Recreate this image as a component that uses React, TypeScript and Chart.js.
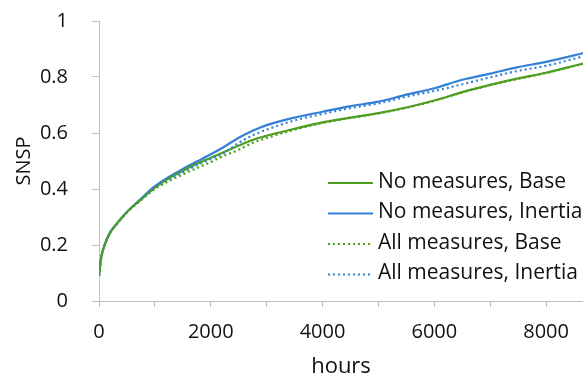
import React, { useEffect, useRef } from "react";
import { Chart, registerables } from "chart.js";

Chart.register(...registerables);

const hours = [0, 25, 50, 100, 200, 300, 500, 750, 1000, 1250, 1500, 1750, 2000, 2250, 2500, 2750, 3000, 3500, 4000, 4500, 5000, 5500, 6000, 6500, 7000, 7500, 8000, 8500, 8760];

const noMeasuresBase = [0.09, 0.135, 0.165, 0.2, 0.245, 0.272, 0.318, 0.362, 0.405, 0.438, 0.465, 0.49, 0.512, 0.533, 0.555, 0.575, 0.59, 0.615, 0.638, 0.655, 0.671, 0.691, 0.716, 0.746, 0.772, 0.795, 0.815, 0.84, 0.853];
const noMeasuresInertia = [0.09, 0.135, 0.165, 0.2, 0.245, 0.272, 0.318, 0.365, 0.41, 0.443, 0.472, 0.498, 0.524, 0.552, 0.583, 0.608, 0.628, 0.655, 0.676, 0.696, 0.712, 0.737, 0.76, 0.79, 0.812, 0.835, 0.854, 0.877, 0.891];
const allMeasuresBase = [0.09, 0.135, 0.165, 0.2, 0.244, 0.27, 0.316, 0.36, 0.4, 0.428, 0.452, 0.474, 0.496, 0.52, 0.54, 0.565, 0.582, 0.612, 0.636, 0.654, 0.67, 0.69, 0.715, 0.745, 0.771, 0.794, 0.814, 0.839, 0.852];
const allMeasuresInertia = [0.09, 0.135, 0.165, 0.2, 0.245, 0.271, 0.317, 0.362, 0.405, 0.435, 0.46, 0.485, 0.507, 0.53, 0.565, 0.592, 0.612, 0.645, 0.668, 0.689, 0.706, 0.73, 0.75, 0.774, 0.799, 0.822, 0.84, 0.865, 0.879];

const seriesLabels = ["No measures, Base", "No measures, Inertia", "All measures, Base", "All measures, Inertia"];
const xTickValues = [0, 1000, 2000, 3000, 4000, 5000, 6000, 7000, 8000];
const xTickLabels = [0, 2000, 4000, 6000, 8000];
const yTickValues = [0, 0.2, 0.4, 0.6, 0.8, 1];

const GREEN = "#4c9e1e";
const BLUE = "#3480d6";
const AXIS = "#bfbfbf";
const TEXT = "#111111";
const FONT = "'Open Sans', Lato, sans-serif";

const toPoints = (vals: number[]) => hours.map((h, i) => ({ x: h, y: vals[i] }));

const legendPlugin = {
  id: "insideLegend",
  afterDraw(chart: any) {
    const { ctx, chartArea } = chart;
    const x0 = chartArea.left + 229;
    const lineLen = 45;
    const y0 = chartArea.top + 161;
    const step = 30.5;
    ctx.save();
    ctx.font = `21px ${FONT}`;
    ctx.textBaseline = "middle";
    ctx.textAlign = "left";
    chart.data.datasets.forEach((ds: any, i: number) => {
      const y = y0 + i * step;
      ctx.beginPath();
      ctx.strokeStyle = ds.borderColor;
      ctx.lineWidth = ds.borderWidth;
      ctx.setLineDash(ds.borderDash || []);
      ctx.moveTo(x0, y + 1);
      ctx.lineTo(x0 + lineLen, y + 1);
      ctx.stroke();
      ctx.setLineDash([]);
      ctx.fillStyle = TEXT;
      ctx.fillText(ds.label, x0 + lineLen + 5, y);
    });
    ctx.restore();
  },
};

export default function App() {
  const ref = useRef<HTMLCanvasElement | null>(null);

  useEffect(() => {
    document.body.style.margin = "0";
    const canvas = ref.current;
    if (!canvas) return;
    const chart = new Chart(canvas, {
      type: "line",
      data: {
        datasets: [
          { label: seriesLabels[0], data: toPoints(noMeasuresBase), borderColor: GREEN, borderWidth: 2.2, pointRadius: 0, order: 2, cubicInterpolationMode: "monotone" },
          { label: seriesLabels[1], data: toPoints(noMeasuresInertia), borderColor: BLUE, borderWidth: 2.2, pointRadius: 0, order: 3, cubicInterpolationMode: "monotone" },
          { label: seriesLabels[2], data: toPoints(allMeasuresBase), borderColor: GREEN, borderWidth: 2.2, borderDash: [2, 3], pointRadius: 0, order: 0, cubicInterpolationMode: "monotone" },
          { label: seriesLabels[3], data: toPoints(allMeasuresInertia), borderColor: BLUE, borderWidth: 2.2, borderDash: [2, 3], pointRadius: 0, order: 1, cubicInterpolationMode: "monotone" },
        ],
      } as any,
      options: {
        animation: false,
        responsive: false,
        maintainAspectRatio: false,
        layout: { padding: { top: 21, right: 0, left: 0, bottom: 0 } },
        plugins: { legend: { display: false }, tooltip: { enabled: false } },
        scales: {
          x: {
            type: "linear",
            min: 0,
            max: 8660,
            afterBuildTicks: (scale: any) => {
              scale.ticks = xTickValues.map((v) => ({ value: v }));
            },
            afterFit: (scale: any) => {
              scale.height = 73;
              scale.paddingRight = 0;
              scale.paddingLeft = 0;
            },
            ticks: {
              autoSkip: false,
              maxRotation: 0,
              color: TEXT,
              font: { family: FONT, size: 20 },
              padding: 13,
              callback: (_v: any, i: number, ticks: any[]) => {
                const val = Math.round(Number(ticks[i].value));
                return xTickLabels.includes(val) ? String(val) : "";
              },
            },
            grid: { drawOnChartArea: false, drawTicks: true, tickLength: 6, color: AXIS },
            border: { color: AXIS, width: 1 },
            title: { display: true, text: "hours", color: TEXT, font: { family: FONT, size: 22 }, padding: { top: 0, bottom: -6 } },
          },
          y: {
            type: "linear",
            min: 0,
            max: 1,
            afterBuildTicks: (scale: any) => {
              scale.ticks = yTickValues.map((v) => ({ value: v }));
            },
            afterFit: (scale: any) => {
              scale.width = 99;
              scale.paddingTop = 0;
              scale.paddingBottom = 0;
            },
            ticks: {
              color: TEXT,
              font: { family: FONT, size: 20 },
              padding: 24,
              callback: (_v: any, i: number, ticks: any[]) => String(Math.round(Number(ticks[i].value) * 10) / 10),
            },
            grid: { drawOnChartArea: false, drawTicks: true, tickLength: 7, color: AXIS },
            border: { color: AXIS, width: 1 },
            title: { display: true, text: "SNSP", color: TEXT, font: { family: FONT, size: 20 }, padding: { top: 12, bottom: 0 } },
          },
        },
      } as any,
      plugins: [legendPlugin],
    });
    return () => chart.destroy();
  }, []);

  return (
    <div style={{ width: 583, height: 374 }}>
      <canvas ref={ref} width={583} height={374} style={{ display: "block", width: 583, height: 374 }} />
    </div>
  );
}
